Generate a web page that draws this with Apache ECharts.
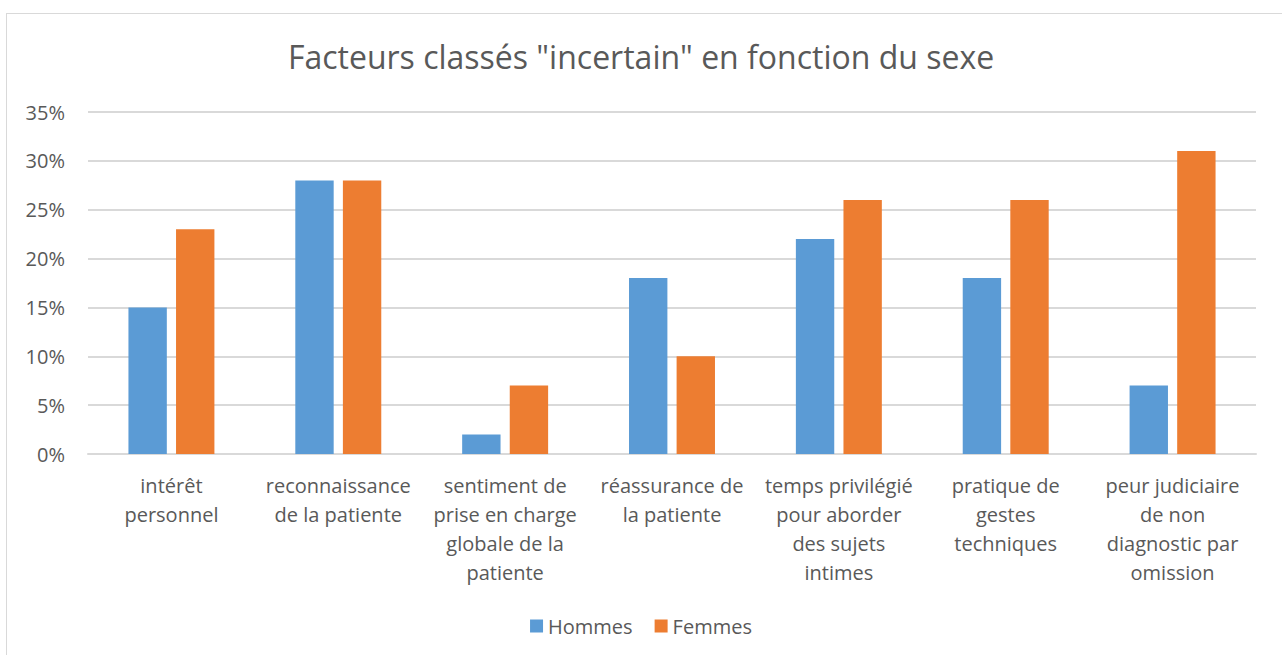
<!DOCTYPE html>
<html>
<head>
<meta charset="utf-8">
<script src="https://cdn.jsdelivr.net/npm/echarts@6/dist/echarts.min.js"></script>
<style>
  html, body { margin: 0; padding: 0; background: #fff; overflow: hidden; }
  #frame { position: absolute; left: 6px; top: 13px; width: 1300px; height: 700px; border: 1px solid #d9d9d9; box-sizing: border-box; }
  #chart { position: absolute; left: 0; top: 0; width: 1282px; height: 655px; }
</style>
</head>
<body>
<div id="frame"></div>
<div id="chart"></div>
<script>
// Facteurs classés "incertain" — Hommes vs Femmes
var categories = [
  'intérêt\npersonnel',
  'reconnaissance\nde la patiente',
  'sentiment de\nprise en charge\nglobale de la\npatiente',
  'réassurance de\nla patiente',
  'temps privilégié\npour aborder\ndes sujets\nintimes',
  'pratique de\ngestes\ntechniques',
  'peur judiciaire\nde non\ndiagnostic par\nomission'
];
var hommes = [15, 28, 2, 18, 22, 18, 7];
var femmes = [23, 28, 7, 10, 26, 26, 31];

var ink = '#595959';
var rule = '#d9d9d9';
var font = '"Open Sans", "DejaVu Sans", sans-serif';

var chart = echarts.init(document.getElementById('chart'), null, { renderer: 'svg' });
chart.setOption({
  animation: false,
  textStyle: { fontFamily: font },
  title: {
    text: 'Facteurs classés "incertain" en fonction du sexe',
    left: 'center',
    top: 35,
    textStyle: { color: ink, fontSize: 32, fontWeight: 'normal', fontFamily: font }
  },
  legend: {
    data: ['Hommes', 'Femmes'],
    bottom: 14,
    left: 'center',
    icon: 'rect',
    itemWidth: 13,
    itemHeight: 13,
    itemGap: 22,
    textStyle: { color: ink, fontSize: 20, fontFamily: font }
  },
  grid: { left: 88, right: 26, top: 112, bottom: 201 },
  xAxis: {
    type: 'category',
    data: categories,
    axisLine: { lineStyle: { color: rule, width: 2 } },
    axisTick: { show: false },
    axisLabel: { color: ink, fontSize: 20, lineHeight: 29, margin: 17, interval: 0, fontFamily: font }
  },
  yAxis: {
    type: 'value',
    min: 0,
    max: 35,
    interval: 5,
    axisLine: { show: false },
    axisTick: { show: false },
    splitLine: { lineStyle: { color: rule, width: 2 } },
    axisLabel: { color: ink, fontSize: 20, margin: 23, formatter: '{value}%', fontFamily: font }
  },
  series: [
    {
      name: 'Hommes',
      type: 'bar',
      data: hommes,
      barWidth: '23%',
      barGap: '24%',
      itemStyle: { color: '#5b9bd5' }
    },
    {
      name: 'Femmes',
      type: 'bar',
      data: femmes,
      barWidth: '23%',
      itemStyle: { color: '#ed7d31' }
    }
  ]
});
</script>
</body>
</html>
